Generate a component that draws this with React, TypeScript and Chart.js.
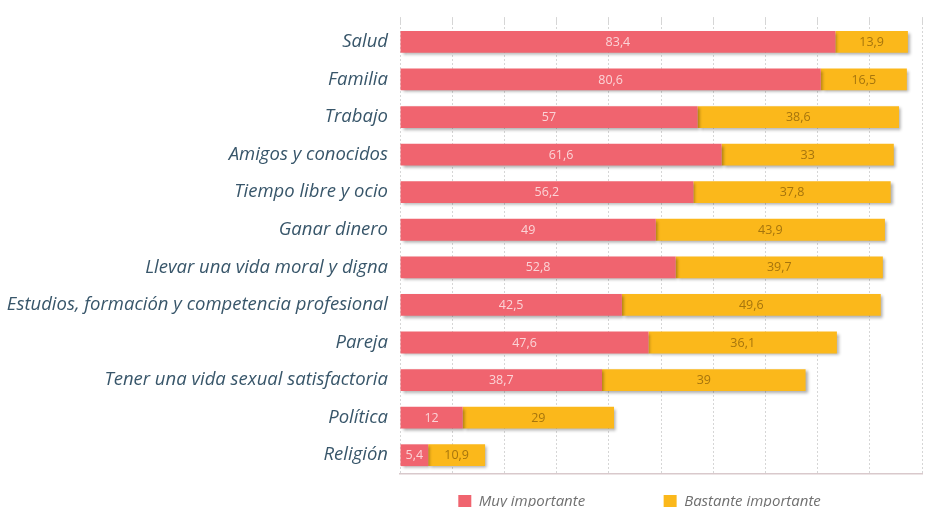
import React, { useEffect, useRef } from "react";
import { Chart, registerables } from "chart.js";

Chart.register(...registerables);

const categories = [
  "Salud",
  "Familia",
  "Trabajo",
  "Amigos y conocidos",
  "Tiempo libre y ocio",
  "Ganar dinero",
  "Llevar una vida moral y digna",
  "Estudios, formación y competencia profesional",
  "Pareja",
  "Tener una vida sexual satisfactoria",
  "Política",
  "Religión",
];

const muyImportante = [83.4, 80.6, 57, 61.6, 56.2, 49, 52.8, 42.5, 47.6, 38.7, 12, 5.4];
const bastanteImportante = [13.9, 16.5, 38.6, 33, 37.8, 43.9, 39.7, 49.6, 36.1, 39, 29, 10.9];

const seriesNames = ["Muy importante", "Bastante importante"];
const seriesColors = ["#f0646f", "#fbb81b"];
const valueLabelColors = ["rgba(255,255,255,0.72)", "rgba(150,105,10,0.85)"];

const FONT = "'Open Sans', 'DejaVu Sans', sans-serif";

const shadowPlugin = {
  id: "barShadow",
  beforeDatasetDraw(chart: any) {
    const ctx = chart.ctx;
    ctx.save();
    ctx.shadowColor = "rgba(0,0,0,0.32)";
    ctx.shadowBlur = 3;
    ctx.shadowOffsetX = 2;
    ctx.shadowOffsetY = 2;
  },
  afterDatasetDraw(chart: any) {
    chart.ctx.restore();
  },
};

const valueLabelPlugin = {
  id: "valueLabels",
  afterDatasetsDraw(chart: any) {
    const ctx = chart.ctx;
    ctx.save();
    ctx.font = `12.5px ${FONT}`;
    ctx.textAlign = "center";
    ctx.textBaseline = "middle";
    chart.data.datasets.forEach((ds: any, di: number) => {
      const meta = chart.getDatasetMeta(di);
      ctx.fillStyle = valueLabelColors[di];
      meta.data.forEach((el: any, i: number) => {
        const { x, y, base } = el.getProps(["x", "y", "base"], true);
        const v = ds.data[i];
        ctx.fillText(String(v).replace(".", ","), (x + base) / 2, y + 0.5);
      });
    });
    ctx.restore();
  },
};

export default function App() {
  const canvasRef = useRef<HTMLCanvasElement | null>(null);

  useEffect(() => {
    if (!canvasRef.current) return;
    const chart = new Chart(canvasRef.current, {
      type: "bar",
      data: {
        labels: categories,
        datasets: [
          {
            label: seriesNames[0],
            data: muyImportante,
            backgroundColor: seriesColors[0],
            borderWidth: 0,
            barPercentage: 0.58,
            categoryPercentage: 1,
          },
          {
            label: seriesNames[1],
            data: bastanteImportante,
            backgroundColor: seriesColors[1],
            borderWidth: 0,
            barPercentage: 0.58,
            categoryPercentage: 1,
          },
        ],
      },
      options: {
        indexAxis: "y",
        animation: false,
        responsive: true,
        maintainAspectRatio: false,
        layout: { padding: { top: 14, right: 3, left: 0, bottom: 0 } },
        scales: {
          x: {
            type: "linear",
            position: "top",
            stacked: true,
            min: 0,
            max: 100,
            ticks: { display: false, stepSize: 10 },
            grid: {
              color: "#d6d6d6",
              lineWidth: 1,
              drawTicks: true,
              tickLength: 6,
              tickColor: "#d6d6d6",
            },
            border: { display: false, dash: [2, 2] },
          },
          xb: {
            type: "linear",
            position: "bottom",
            min: 0,
            max: 100,
            ticks: { display: false },
            grid: { display: false, drawTicks: false },
            border: { display: true, color: "#d9c9cc", width: 1.5 },
          },
          y: {
            type: "category",
            stacked: true,
            grid: { display: false, drawTicks: false },
            border: { display: false },
            ticks: {
              color: "#38566a",
              padding: 12,
              font: { family: FONT, size: 18.5, style: "italic" },
            },
            afterFit(scale: any) {
              scale.width = 400;
            },
          },
        },
        plugins: {
          legend: {
            position: "bottom",
            fullSize: false,
            labels: {
              boxWidth: 13,
              boxHeight: 13,
              padding: 20,
              color: "#707070",
              font: { family: FONT, size: 15, style: "italic" },
              generateLabels(chart: any) {
                const items = Chart.defaults.plugins.legend.labels.generateLabels(chart);
                const pads = ["               ", "           "];
                return items.map((it: any, i: number) => ({
                  ...it,
                  text: it.text + pads[i],
                  lineWidth: 0,
                  strokeStyle: "transparent",
                }));
              },
            },
          },
          tooltip: { enabled: false },
        },
      },
      plugins: [shadowPlugin, valueLabelPlugin],
    } as any);
    return () => chart.destroy();
  }, []);

  return (
    <div
      style={{
        position: "fixed",
        left: 0,
        top: 0,
        width: 925,
        height: 507,
        overflow: "hidden",
        background: "#ffffff",
      }}
    >
      <div style={{ position: "relative", width: 925, height: 519 }}>
        <canvas ref={canvasRef} />
      </div>
    </div>
  );
}
